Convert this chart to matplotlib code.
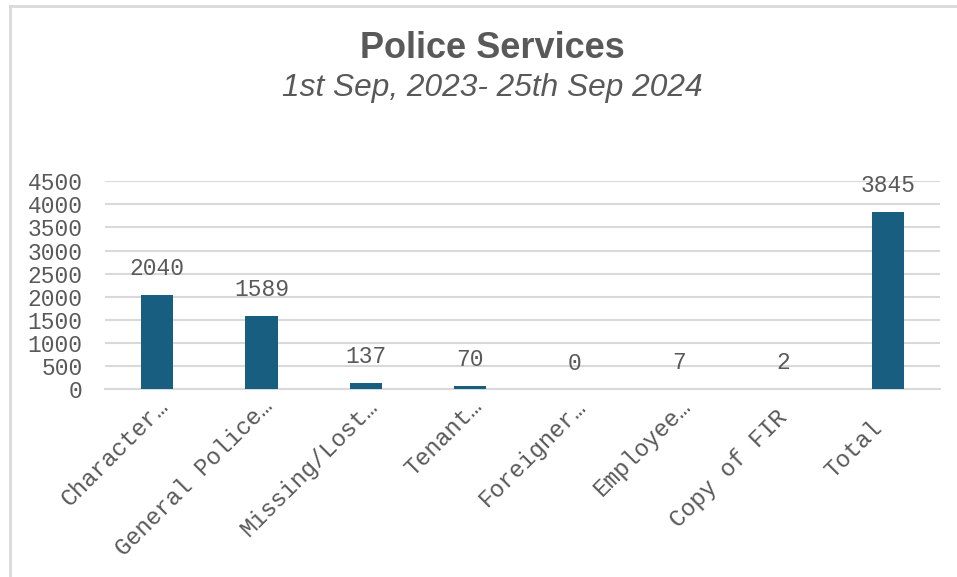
import matplotlib
matplotlib.use("Agg")
import matplotlib.pyplot as plt
import matplotlib.transforms as mtransforms
from matplotlib.lines import Line2D

# data
categories = ["Character…", "General Police…", "Missing/Lost…", "Tenant…",
              "Foreigner…", "Employee…", "Copy of FIR", "Total"]
requests = [2040, 1589, 137, 70, 0, 7, 2, 3845]
yticks = [0, 500, 1000, 1500, 2000, 2500, 3000, 3500, 4000, 4500]

bar_color = "#175e80"
text_color = "#595959"
grid_color = "#d9d9d9"
mono = "Liberation Mono"

fig = plt.figure(figsize=(9.57, 5.77), dpi=100)
ax = fig.add_axes([0.1097, 0.3258, 0.8725, 0.36])

x = range(len(categories))
ax.bar(x, requests, width=0.31, color=bar_color, zorder=3)

for xi, v in zip(x, requests):
    ax.annotate(str(v), (xi, v), xytext=(0, 26), textcoords="offset pixels",
                ha="center", va="center", fontsize=16.5, family=mono,
                color=text_color)

ax.set_xlim(-0.5, len(categories) - 0.5)
ax.set_ylim(0, 4500)
ax.set_yticks(yticks)
ax.set_yticklabels([str(t) for t in yticks], family=mono, fontsize=16.5,
                   color=text_color)
ax.set_xticks(list(x))
labels = ax.set_xticklabels(categories, family=mono, fontsize=17,
                            color=text_color, rotation=45, ha="right",
                            rotation_mode="anchor")
ax.tick_params(axis="y", length=0, pad=16)
ax.tick_params(axis="x", length=0, pad=4)

# the short labels sit a bit lower in the original
shifts = {"Copy of FIR": (-8, -11), "Total": (-17, -22)}
for lab in labels:
    if lab.get_text() in shifts:
        dx, dy = shifts[lab.get_text()]
        lab.set_transform(lab.get_transform() + mtransforms.Affine2D().translate(dx, dy))

ax.grid(axis="y", color=grid_color, linewidth=1.5, zorder=0)
for s in ["top", "right", "left"]:
    ax.spines[s].set_visible(False)
ax.spines["bottom"].set_color(grid_color)
ax.spines["bottom"].set_linewidth(1.5)

fig.text(0.514, 1 - 48 / 577, "Police Services", ha="center", va="center",
         fontsize=26, fontweight="bold", family="Liberation Sans",
         color=text_color)
fig.text(0.514, 1 - 88 / 577, "1st Sep, 2023- 25th Sep 2024", ha="center",
         va="center", fontsize=22.8, style="italic", family="Liberation Sans",
         color=text_color)

# chart frame (left and top edges visible)
fig.add_artist(Line2D([10 / 957, 10 / 957], [0, 1 - 6 / 577],
                      transform=fig.transFigure, color=grid_color, lw=2))
fig.add_artist(Line2D([10 / 957, 1], [1 - 6 / 577, 1 - 6 / 577],
                      transform=fig.transFigure, color=grid_color, lw=2))

fig.savefig("out.png", dpi=100)
